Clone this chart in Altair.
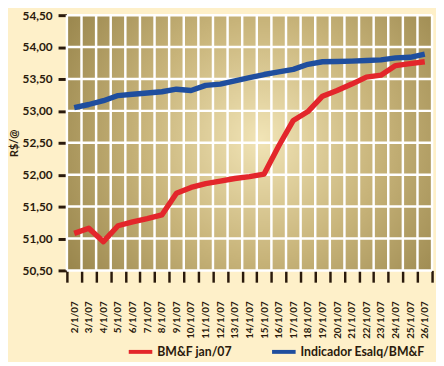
import altair as alt
import pandas as pd

dates = ["2/1/07", "3/1/07", "4/1/07", "5/1/07", "6/1/07", "7/1/07", "8/1/07",
         "9/1/07", "10/1/07", "11/1/07", "12/1/07", "13/1/07", "14/1/07",
         "15/1/07", "16/1/07", "17/1/07", "18/1/07", "19/1/07", "20/1/07",
         "21/1/07", "22/1/07", "23/1/07", "24/1/07", "25/1/07", "26/1/07"]
bmf = [51.08, 51.16, 50.95, 51.20, 51.26, 51.31, 51.37, 51.71, 51.80, 51.86,
       51.90, 51.94, 51.97, 52.01, 52.45, 52.85, 52.99, 53.23, 53.32, 53.42,
       53.53, 53.56, 53.71, 53.74, 53.77]
esalq = [53.05, 53.10, 53.16, 53.24, 53.26, 53.28, 53.30, 53.34, 53.32, 53.40,
         53.42, 53.47, 53.52, 53.57, 53.61, 53.65, 53.73, 53.77, 53.775, 53.78,
         53.79, 53.80, 53.83, 53.84, 53.89]
series_names = ["BM&F jan/07", "Indicador Esalq/BM&F"]
series_colors = ["#E3262B", "#1F4E9E"]
yticks = [50.5, 51.0, 51.5, 52.0, 52.5, 53.0, 53.5, 54.0, 54.5]

W, H = 372, 260
DARK = "#2A1A0C"
FONT = "Lato"

rows = []
for i, d in enumerate(dates):
    rows.append({"date": d, "series": series_names[0], "value": bmf[i]})
    rows.append({"date": d, "series": series_names[1], "value": esalq[i]})
df = pd.DataFrame(rows)
df_dates = pd.DataFrame({"date": dates, "value": [50.5] * len(dates)})
df_y = pd.DataFrame({"value": yticks})
df_one = pd.DataFrame({"k": [0]})

xscale = alt.Scale(type="band", domain=dates, paddingInner=0, paddingOuter=0)
yscale = alt.Scale(domain=[50.5, 54.5], nice=False, zero=False)

xaxis = alt.Axis(title=None, labelAngle=270, tickBand="extent", grid=False,
                 domain=False, tickSize=12, tickWidth=2.5, tickColor=DARK,
                 labelPadding=19, labelFont=FONT, labelFontWeight="bold",
                 labelFontSize=10, labelColor=DARK)
yaxis = alt.Axis(values=yticks,
                 labelExpr="replace(format(datum.value, '.2f'), '.', ',')",
                 grid=False, domain=False, tickSize=9, tickWidth=3,
                 tickColor=DARK, labelPadding=6, labelFont=FONT,
                 labelFontWeight="bold", labelFontSize=12, labelColor=DARK,
                 title="R$/@", titleFont=FONT, titleFontWeight="bold",
                 titleFontSize=11, titleColor=DARK, titleX=-53, titleY=H / 2,
                 titleBaseline="middle", titleAlign="center", titleAngle=270)

bg = alt.Chart(df_one).mark_rect(
    fill=alt.Gradient(
        gradient="radial",
        stops=[
            alt.GradientStop(offset=0, color="#F1E4B6"),
            alt.GradientStop(offset=0.45, color="#C8B47A"),
            alt.GradientStop(offset=1, color="#8C7940"),
        ],
        x1=0.53, y1=0.49, r1=0, x2=0.53, y2=0.49, r2=0.72,
    )
).encode(x=alt.value(0), x2=alt.value(W), y=alt.value(0), y2=alt.value(H))

hgrid = alt.Chart(df_y).mark_rule(color="white", strokeWidth=2.5).encode(
    y=alt.Y("value:Q", scale=yscale, axis=yaxis)
)
vgrid = alt.Chart(df_dates).mark_rule(color="white", strokeWidth=2.5).encode(
    x=alt.X("date:N", sort=dates, scale=xscale, bandPosition=0, axis=xaxis)
)
vgrid_end = alt.Chart(df_one).mark_rule(color="white", strokeWidth=2.5).encode(
    x=alt.value(W)
)

lines = alt.Chart(df).mark_line(strokeWidth=5.5, strokeJoin="round").encode(
    x=alt.X("date:N", sort=dates, scale=xscale, axis=xaxis),
    y=alt.Y("value:Q", scale=yscale, axis=yaxis),
    color=alt.Color("series:N",
                    scale=alt.Scale(domain=series_names, range=series_colors),
                    legend=alt.Legend(title=None, orient="none", legendX=61, legendY=329,
                                      direction="horizontal", symbolType="stroke",
                                      symbolSize=576, symbolStrokeWidth=4,
                                      labelFont=FONT, labelFontWeight="bold",
                                      labelFontSize=12.5, labelColor=DARK,
                                      labelOffset=3, columnPadding=32, padding=0)),
    detail="series:N",
)

chart = alt.layer(bg, hgrid, vgrid, vgrid_end, lines).properties(
    width=W, height=H,
    autosize=alt.AutoSizeParams(type="none"),
    padding={"left": 60, "top": 4, "right": 4, "bottom": 90},
    background="#FEF0C9",
).configure_view(stroke=None)

chart.save("out.html", embed_options={"renderer": "svg", "actions": False})
